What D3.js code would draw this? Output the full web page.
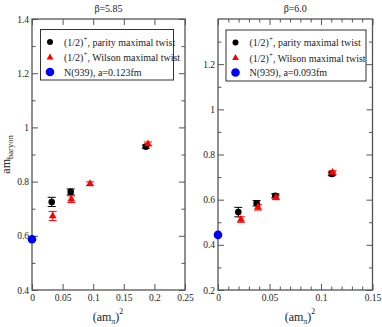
<!DOCTYPE html>
<html><head><meta charset="utf-8">
<script src="https://cdn.jsdelivr.net/npm/d3@7"></script>
<style>
body{margin:0;background:#fff;}
text{font-family:"Liberation Serif","Times New Roman",serif;}
</style></head>
<body><svg id="c" width="382" height="327"></svg>
<script>
// ---- data ----
const titles = ["β=5.85", "β=6.0"];
const nucleonLabels = ["N(939), a=0.123fm", "N(939), a=0.093fm"];
// beta = 5.85
const parityX_585 = [0.0322, 0.0632, 0.1860];
const parityY_585 = [0.725, 0.762, 0.929];
const parityE_585 = [0.017, 0.011, 0.006];
const wilsonX_585 = [0.0338, 0.0642, 0.0948, 0.1895];
const wilsonY_585 = [0.673, 0.735, 0.792, 0.939];
const wilsonE_585 = [0.017, 0.012, 0.007, 0.007];
const nucleonX_585 = [0];
const nucleonY_585 = [0.587];
// beta = 6.0
const parityX_60 = [0.0197, 0.0375, 0.0556, 0.1105];
const parityY_60 = [0.545, 0.584, 0.617, 0.714];
const parityE_60 = [0.021, 0.012, 0.009, 0.008];
const wilsonX_60 = [0.0223, 0.0388, 0.0562, 0.1112];
const wilsonY_60 = [0.512, 0.566, 0.610, 0.720];
const wilsonE_60 = [0.012, 0.012, 0.010, 0.008];
const nucleonX_60 = [0];
const nucleonY_60 = [0.444];
// axes
const xDomain_585 = [0, 0.25], yDomain_585 = [0.4, 1.4];
const xDomain_60 = [0, 0.15], yDomain_60 = [0.2, 1.4];
const xMajor_585 = [0, 0.05, 0.1, 0.15, 0.2, 0.25];
const xMinor_585 = [];
const yMajor_585 = [0.4, 0.6, 0.8, 1.0, 1.2, 1.4];
const yMinor_585 = [0.5, 0.7, 0.9, 1.1, 1.3];
const xMajor_60 = [0, 0.05, 0.1, 0.15];
const xMinor_60 = [0.01,0.02,0.03,0.04,0.06,0.07,0.08,0.09,0.11,0.12,0.13,0.14];
const yMajor_60 = [0.2, 0.4, 0.6, 0.8, 1.0, 1.2];
const yMinor_60 = [0.3, 0.5, 0.7, 0.9, 1.1, 1.3];

const panels = [
  {title: titles[0], nlabel: nucleonLabels[0], x0:32, x1:185, y0:19, y1:290,
   xd:xDomain_585, yd:yDomain_585, xM:xMajor_585, xm:xMinor_585, yM:yMajor_585, ym:yMinor_585,
   px:parityX_585, py:parityY_585, pe:parityE_585, wx:wilsonX_585, wy:wilsonY_585, we:wilsonE_585,
   nx:nucleonX_585, ny:nucleonY_585, leg:{x:40.5, y:29.5, w:133, h:50.5}, xlab:108, ylab:true},
  {title: titles[1], nlabel: nucleonLabels[1], x0:218, x1:372.5, y0:19, y1:290,
   xd:xDomain_60, yd:yDomain_60, xM:xMajor_60, xm:xMinor_60, yM:yMajor_60, ym:yMinor_60,
   px:parityX_60, py:parityY_60, pe:parityE_60, wx:wilsonX_60, wy:wilsonY_60, we:wilsonE_60,
   nx:nucleonX_60, ny:nucleonY_60, leg:{x:226, y:30, w:140, h:51}, xlab:300, ylab:false}
];

const svg = d3.select("#c");
const axCol = "#555";
const tri = d3.symbol().type(d3.symbolTriangle);

panels.forEach(p => {
  const x = d3.scaleLinear().domain(p.xd).range([p.x0, p.x1]);
  const y = d3.scaleLinear().domain(p.yd).range([p.y1, p.y0]);
  const g = svg.append("g");

  function styleAxis(sel, hideLabels) {
    sel.select(".domain").remove();
    sel.selectAll("line").attr("stroke", axCol).attr("stroke-width", 1);
    sel.selectAll("text").attr("fill", "#222").style("font-size", "9.5px")
      .style("font-family", '"Liberation Serif",serif');
    if (hideLabels) sel.selectAll("text").remove();
  }
  // bottom
  g.append("g").attr("transform", `translate(0,${p.y1})`)
    .call(d3.axisBottom(x).tickValues(p.xM).tickSize(-6).tickPadding(4).tickFormat(d3.format("~g")))
    .call(s => styleAxis(s, false));
  g.append("g").attr("transform", `translate(0,${p.y1})`)
    .call(d3.axisBottom(x).tickValues(p.xm).tickSize(-3.5).tickFormat(""))
    .call(s => styleAxis(s, true));
  // top
  g.append("g").attr("transform", `translate(0,${p.y0})`)
    .call(d3.axisTop(x).tickValues(p.xM).tickSize(-6).tickFormat(""))
    .call(s => styleAxis(s, true));
  g.append("g").attr("transform", `translate(0,${p.y0})`)
    .call(d3.axisTop(x).tickValues(p.xm).tickSize(-3.5).tickFormat(""))
    .call(s => styleAxis(s, true));
  // left
  const yLabVals = p.yM.filter(v => v < p.yd[1] - 1e-9 || p.ylab);
  g.append("g").attr("transform", `translate(${p.x0},0)`)
    .call(d3.axisLeft(y).tickValues(yLabVals).tickSize(-6).tickPadding(3).tickFormat(d3.format("~g")))
    .call(s => styleAxis(s, false));
  g.append("g").attr("transform", `translate(${p.x0},0)`)
    .call(d3.axisLeft(y).tickValues(p.ym).tickSize(-3.5).tickFormat(""))
    .call(s => styleAxis(s, true));
  // right
  g.append("g").attr("transform", `translate(${p.x1},0)`)
    .call(d3.axisRight(y).tickValues(p.yM).tickSize(-6).tickFormat(""))
    .call(s => styleAxis(s, true));
  g.append("g").attr("transform", `translate(${p.x1},0)`)
    .call(d3.axisRight(y).tickValues(p.ym).tickSize(-3.5).tickFormat(""))
    .call(s => styleAxis(s, true));
  // frame
  g.append("rect").attr("x", p.x0).attr("y", p.y0).attr("width", p.x1 - p.x0).attr("height", p.y1 - p.y0)
    .attr("fill", "none").attr("stroke", axCol).attr("stroke-width", 1.3);

  // title
  g.append("text").attr("x", (p.x0 + p.x1) / 2).attr("y", 12).attr("text-anchor", "middle")
    .style("font-size", "10px").attr("fill", "#222").text(p.title);

  // x label
  const xl = g.append("text").attr("x", p.xlab).attr("y", 321).attr("text-anchor", "middle")
    .style("font-size", "12px").attr("fill", "#222");
  xl.append("tspan").text("(am");
  xl.append("tspan").attr("dy", 3).style("font-size", "8px").text("π");
  xl.append("tspan").attr("dy", -3).text(")");
  xl.append("tspan").attr("dy", -7).style("font-size", "8px").text("2");

  if (p.ylab) {
    const yl = svg.append("text").attr("transform", `translate(9.5,${(p.y0 + p.y1) / 2}) rotate(-90)`)
      .attr("text-anchor", "middle").style("font-size", "12px").attr("fill", "#222");
    yl.append("tspan").text("am");
    yl.append("tspan").attr("dy", 3).style("font-size", "8.5px").text("baryon");
  }

  // error bars
  function errbars(xs, ys, es, col) {
    const eg = g.append("g").attr("stroke", col).attr("stroke-width", 1);
    xs.forEach((xv, i) => {
      const cx = x(xv), ya = y(ys[i] - es[i]), yb = y(ys[i] + es[i]);
      eg.append("line").attr("x1", cx).attr("x2", cx).attr("y1", ya).attr("y2", yb);
      eg.append("line").attr("x1", cx - 4).attr("x2", cx + 4).attr("y1", ya).attr("y2", ya);
      eg.append("line").attr("x1", cx - 4).attr("x2", cx + 4).attr("y1", yb).attr("y2", yb);
    });
  }
  errbars(p.px, p.py, p.pe, "#000");
  errbars(p.wx, p.wy, p.we, "#ff0000");

  g.selectAll(".pc").data(p.px.map((v, i) => [v, p.py[i]])).join("circle")
    .attr("cx", d => x(d[0])).attr("cy", d => y(d[1])).attr("r", 3.3).attr("fill", "#000");
  g.selectAll(".wt").data(p.wx.map((v, i) => [v, p.wy[i]])).join("path")
    .attr("d", tri.size(26)()).attr("transform", d => `translate(${x(d[0])},${y(d[1])})`).attr("fill", "#ff0000");
  g.selectAll(".nc").data(p.nx.map((v, i) => [v, p.ny[i]])).join("circle")
    .attr("cx", d => x(d[0])).attr("cy", d => y(d[1])).attr("r", 4.3).attr("fill", "#0000ff");

  // legend
  const L = p.leg;
  const lg = g.append("g");
  lg.append("rect").attr("x", L.x).attr("y", L.y).attr("width", L.w).attr("height", L.h)
    .attr("fill", "#fff").attr("stroke", "#333").attr("stroke-width", 1);
  const mx = L.x + 9.5, tx = L.x + 23.5;
  const rows = [L.y + 12.5, L.y + 28, L.y + 42.5];
  lg.append("circle").attr("cx", mx).attr("cy", rows[0]).attr("r", 3).attr("fill", "#000");
  lg.append("path").attr("d", tri.size(20)()).attr("transform", `translate(${mx},${rows[1]})`).attr("fill", "#ff0000");
  lg.append("circle").attr("cx", mx).attr("cy", rows[2]).attr("r", 4.3).attr("fill", "#0000ff");
  const legTexts = [", parity maximal twist", ", Wilson maximal twist"];
  legTexts.forEach((t, i) => {
    const tt = lg.append("text").attr("x", tx).attr("y", rows[i] + 3.5).style("font-size", "10px").attr("fill", "#222");
    tt.append("tspan").text("(1/2)");
    tt.append("tspan").attr("dy", -5).style("font-size", "7px").text("+");
    tt.append("tspan").attr("dy", 5).text(t);
  });
  lg.append("text").attr("x", tx).attr("y", rows[2] + 3.5).style("font-size", "10px").attr("fill", "#222").text(p.nlabel);
});
</script></body></html>
